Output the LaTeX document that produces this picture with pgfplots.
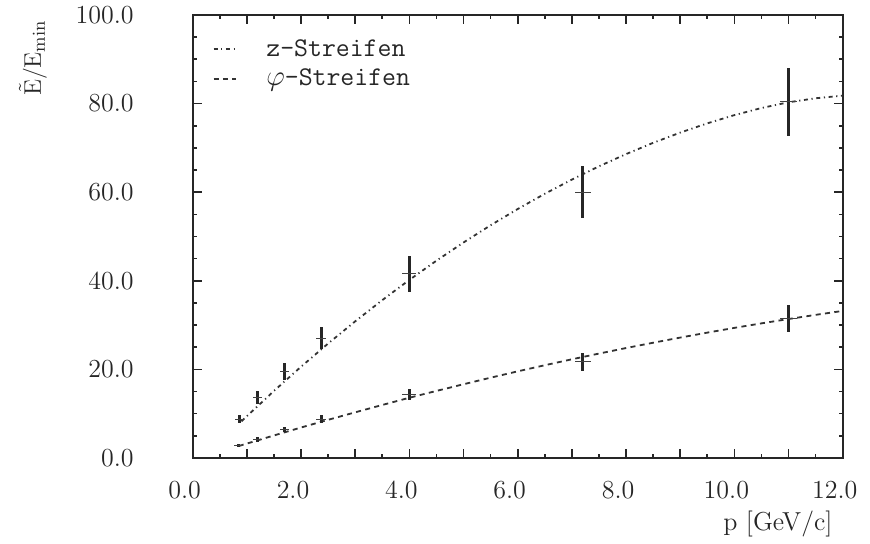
\documentclass[border=0pt]{standalone}
\usepackage{pgfplots}
\pgfplotsset{compat=1.18}
\usepackage{pgfplotstable}

\pgfplotstableread{
p     y     ey   ex
0.87  8.8   1.0  0.08
1.20  13.7  1.4  0.08
1.70  19.6  1.9  0.08
2.37  27.0  2.5  0.10
4.00  41.6  4.1  0.13
7.20  60.0  5.9  0.15
11.00 80.4  7.7  0.15
}\zdata

\pgfplotstableread{
p     y     ey   ex
0.85  2.8   0.4  0.08
1.20  4.2   0.5  0.08
1.70  6.4   0.6  0.08
2.37  8.8   0.8  0.10
4.00  14.3  1.2  0.13
7.20  21.7  2.1  0.15
11.00 31.5  3.0  0.15
}\phidata

\pgfplotstableread{
p     y
0.9   8.29
1.5   15.14
2.0   20.6
2.5   25.84
3.0   30.85
3.5   35.64
4.0   40.2
4.5   44.54
5.0   48.65
5.5   52.54
6.0   56.2
6.5   59.64
7.0   62.85
7.5   65.84
8.0   68.6
8.5   71.14
9.0   73.45
9.5   75.54
10.0  77.4
10.5  79.0
11.0  80.3
11.5  81.2
12.0  81.8
}\zfit

\pgfplotstableread{
p     y
0.85  2.70
1.5   5.09
2.0   6.88
2.5   8.62
3.0   10.31
3.5   11.97
4.0   13.6
4.5   15.14
5.0   16.65
5.5   18.13
6.0   19.56
6.5   20.94
7.0   22.28
7.5   23.57
8.0   24.82
8.5   26.02
9.0   27.18
9.5   28.3
10.0  29.37
10.5  30.39
11.0  31.37
11.5  32.31
12.0  33.2
}\phifit

\begin{document}
\begin{tikzpicture}
\begin{axis}[
  name=ax,
  scale only axis,
  width=325pt, height=221.5pt,
  at={(0,0)}, anchor=south west,
  xmin=0, xmax=12, ymin=0, ymax=100,
  axis line style={line width=1.1pt, black!85},
  tick style={black!85, line width=0.8pt},
  tick align=inside,
  major tick length=4.5pt, minor tick length=2pt,
  xtick={0,1,...,12},
  xticklabels={0.0,,2.0,,4.0,,6.0,,8.0,,10.0,,12.0},
  minor xtick={0.5,1.5,...,11.5},
  ytick={0,20,...,100},
  yticklabels={0.0,20.0,40.0,60.0,80.0,100.0},
  minor ytick={5,10,...,95},
  ticklabel style={font=\fontsize{13}{15}\selectfont, black!85},
  xticklabel style={yshift=-8pt, xshift=-4pt},
  yticklabel style={xshift=-26pt},
  xlabel={p [GeV/c]},
  xlabel style={at={(axis description cs:0.995,-0.148)}, anchor=east, font=\fontsize{13}{15}\selectfont, black!85},
  legend style={draw=none, fill=none, at={(axis description cs:0.03,0.955)}, anchor=north west,
    font=\ttfamily\fontsize{13.5}{15}\selectfont, text=black!85, row sep=1pt,
    inner sep=0pt},
  legend cell align=left,
  legend image code/.code={\draw[#1] (0pt,0pt) -- (11pt,0pt);},
  /tikz/every odd column/.append style={column sep=13pt},
]
\addplot[black!80, line width=0.9pt, dash pattern=on 2pt off 1.8pt on 0.6pt off 1.8pt] table[x=p,y=y]{\zfit};
\addlegendentry{z-Streifen}
\addplot[black!80, line width=0.9pt, dash pattern=on 2.5pt off 2.2pt] table[x=p,y=y]{\phifit};
\addlegendentry{$\varphi$-Streifen}

\addplot[forget plot, draw=none, mark=none,
  error bars/.cd, y dir=both, y explicit, error mark=none,
  error bar style={line width=1.5pt, draw=black!85, solid}]
  table[x=p,y=y,y error=ey]{\zdata};
\addplot[forget plot, draw=none, mark=none,
  error bars/.cd, x dir=both, x explicit, error mark=none,
  error bar style={line width=0.5pt, draw=black!75, solid}]
  table[x=p,y=y,x error=ex]{\zdata};
\addplot[forget plot, draw=none, mark=none,
  error bars/.cd, y dir=both, y explicit, error mark=none,
  error bar style={line width=1.5pt, draw=black!85, solid}]
  table[x=p,y=y,y error=ey]{\phidata};
\addplot[forget plot, draw=none, mark=none,
  error bars/.cd, x dir=both, x explicit, error mark=none,
  error bar style={line width=0.5pt, draw=black!75, solid}]
  table[x=p,y=y,x error=ex]{\phidata};
\end{axis}
\node[rotate=90, anchor=east, inner sep=0pt, font=\fontsize{13}{15}\selectfont, text=black!85]
  at ([xshift=-79.85pt, yshift=-2.5pt]ax.north west) {$\tilde{\mathrm{E}}/\mathrm{E}_{\mathrm{min}}$};
\pgfresetboundingbox
\path[use as bounding box] (-96.35pt,-42.75pt) rectangle (338.65pt,229pt);
\end{tikzpicture}
\end{document}
